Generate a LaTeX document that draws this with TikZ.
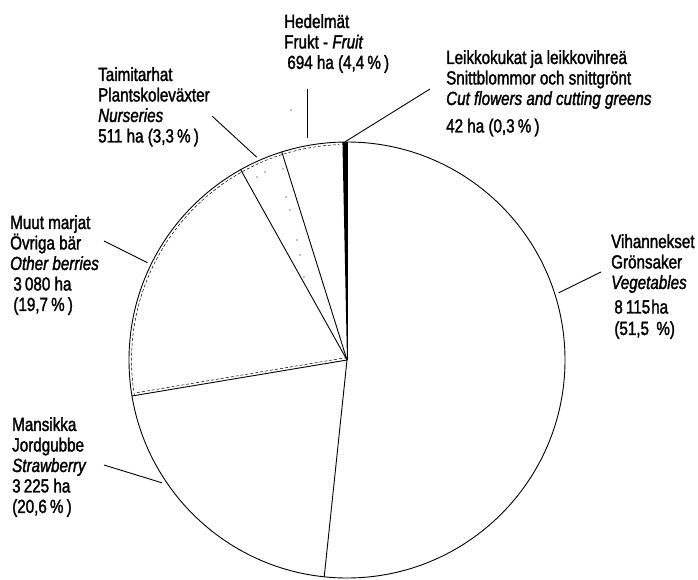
\documentclass[tikz,border=0pt]{standalone}
\usepackage{fontspec}
\setmainfont[FakeStretch=0.80,FakeBold=1.6]{Liberation Sans}
\begin{document}
\begin{tikzpicture}[x=1pt,y=1pt,font=\fontsize{19}{20.5}\selectfont,
  lbl/.style={anchor=north west,align=left,inner sep=0pt},
  slice/.style={line width=0.9pt},
  tint/.style={densely dashed,line width=0.5pt}]
\useasboundingbox (0,0) rectangle (698,579);
\pgfmathsetmacro{\R}{218}
\coordinate (c) at (347,219);
%
\draw[slice](c) circle (\R);
\foreach \a in {90,-96,-170.5,119.2,107.4}{\draw[slice](c)--++(\a:\R);}
\fill(c)--++(90:\R) arc(90:91.2:\R)--cycle;
\draw[tint](c) ++(189.5:\R-2.5) arc(189.5:92:\R-2.5);
\draw[tint]([yshift=2.5pt]c)--++(189.5:\R-3);
\foreach \p in {(257,402),(265,407),(283,410),(286,382),(290,369),(297,339),(300,324),(304,302),(291,469)}{\fill \p circle (0.7);}
%
\node[lbl](fruit) at (284,565){Hedelmät\\Frukt - \textit{Fruit}\\\,694 ha (4,4\,\%\,)};
\node[lbl](cutfl) at (446,529){Leikkokukat ja leikkovihreä\\Snittblommor och snittgrönt\\\textit{Cut flowers and cutting greens}\\[7pt]42 ha (0,3\,\%\,)};
\node[lbl](nurs) at (98,512){Taimitarhat\\Plantskoleväxter\\\textit{Nurseries}\\511 ha (3,3\,\%\,)};
\node[lbl](berr) at (10,364){Muut marjat\\Övriga bär\\\textit{Other berries}\\\,3\,080 ha\\\,(19,7\,\%\,)};
\node[lbl](straw) at (12,162){Mansikka\\Jordgubbe\\\textit{Strawberry}\\3\,225 ha\\(20,6\,\%\,)};
\node[lbl](veg) at (611,345){Vihannekset\\Grönsaker\\\textit{Vegetables}\\[4pt]\,8\,115\kern1pt ha\\[1pt]\,(51,5\,\ \%)};
%
\coordinate (fruit-a) at (307,490); \coordinate (fruit-b) at (307,441);
\coordinate (cutfl-a) at (430,490); \path (c) ++(90.6:\R) coordinate (cutfl-b);
\coordinate (nurs-a) at (212,463); \path (c) ++(114:\R+4) coordinate (nurs-b);
\coordinate (berr-a) at (104,338); \path (c) ++(154:\R+4) coordinate (berr-b);
\coordinate (straw-a) at (104,114); \path (c) ++(213.6:\R+4) coordinate (straw-b);
\coordinate (veg-a) at (601,307); \path (c) ++(17.6:\R+4) coordinate (veg-b);
\foreach \n in {fruit,cutfl,nurs,berr,straw,veg}{\draw[line width=0.9pt](\n-a)--(\n-b);}
\end{tikzpicture}
\end{document}
